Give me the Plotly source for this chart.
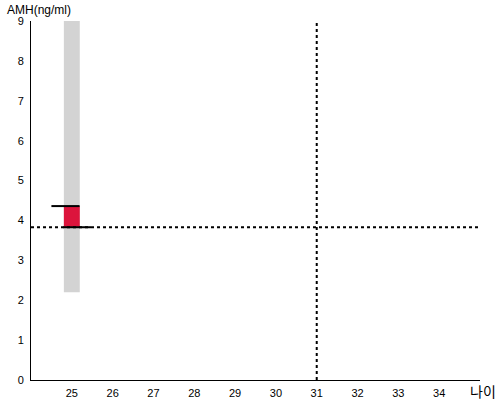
import plotly.graph_objects as go

age = [25]
range_low = [2.2]
range_high = [9.0]
box_low = [3.83]
box_high = [4.36]
ref_amh = 3.83
ref_age = 31
x_ticks = [25, 26, 27, 28, 29, 30, 31, 32, 33, 34]
y_ticks = [0, 1, 2, 3, 4, 5, 6, 7, 8, 9]

fig = go.Figure()

# gray range bar
fig.add_trace(go.Bar(x=age, base=range_low, y=[h - l for h, l in zip(range_high, range_low)],
                     width=0.39, marker=dict(color="#d3d3d3", line=dict(width=0)),
                     hoverinfo="skip", showlegend=False))
# red box
fig.add_trace(go.Bar(x=age, base=box_low, y=[h - l for h, l in zip(box_high, box_low)],
                     width=0.39, marker=dict(color="#dc143c", line=dict(width=0)),
                     hoverinfo="skip", showlegend=False))

# reference dotted lines
fig.add_trace(go.Scatter(x=[24, 35], y=[ref_amh, ref_amh], mode="lines",
                         line=dict(color="black", width=2, dash="dot"), showlegend=False, hoverinfo="skip"))
fig.add_trace(go.Scatter(x=[ref_age, ref_age], y=[0, 9], mode="lines",
                         line=dict(color="black", width=2, dash="dot"), showlegend=False, hoverinfo="skip"))

# black marks at top and bottom of box
fig.add_trace(go.Scatter(x=[age[0] - 0.5, age[0] + 0.19], y=[box_high[0], box_high[0]], mode="lines",
                         line=dict(color="black", width=2), showlegend=False, hoverinfo="skip"))
fig.add_trace(go.Scatter(x=[age[0] - 0.21, age[0] + 0.47], y=[box_low[0], box_low[0]], mode="lines",
                         line=dict(color="black", width=2), showlegend=False, hoverinfo="skip"))

fig.update_layout(
    width=500, height=400,
    margin=dict(l=31, r=20, t=21, b=20, autoexpand=False),
    plot_bgcolor="white", paper_bgcolor="white",
    font=dict(family="Liberation Sans, Arial, sans-serif", size=11, color="black"),
    barmode="overlay",
    xaxis=dict(range=[24, 35], tickvals=x_ticks, showgrid=False, zeroline=False, automargin=False,
               showline=True, linecolor="black", linewidth=1, ticks="", ticklen=0,
               ticklabelstandoff=3),
    yaxis=dict(range=[0, 9], tickvals=y_ticks, showgrid=False, zeroline=False, automargin=False,
               showline=True, linecolor="black", linewidth=1, ticks="", ticklen=0,
               ticklabelstandoff=4),
    annotations=[
        dict(text="AMH(ng/ml)", xref="paper", yref="paper", x=-26/449, y=1 + 20/359,
             xanchor="left", yanchor="top", showarrow=False,
             font=dict(size=12, color="black")),
        dict(text="나이", xref="paper", yref="paper", x=467/449, y=1/359,
             xanchor="right", yanchor="top", showarrow=False,
             font=dict(family="Noto Sans CJK KR", size=14, color="black")),
    ],
)

fig.write_html("out.html", config={"displayModeBar": False},
               post_script="document.body.style.margin='0';")
